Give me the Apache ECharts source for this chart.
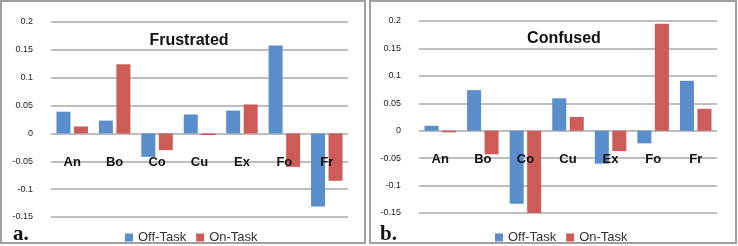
<!DOCTYPE html>
<html>
<head>
<meta charset="utf-8">
<script src="https://cdn.jsdelivr.net/npm/echarts@6/dist/echarts.min.js"></script>
<style>
  html, body { margin: 0; padding: 0; background: #fff; }
  #chart { width: 738px; height: 246px; }
</style>
</head>
<body>
<div id="chart"></div>
<script>
var categories = ['An', 'Bo', 'Co', 'Cu', 'Ex', 'Fo', 'Fr'];
var frustratedOff = [0.039, 0.023, -0.042, 0.034, 0.041, 0.158, -0.131];
var frustratedOn = [0.0125, 0.124, -0.030, -0.003, 0.052, -0.060, -0.085];
var confusedOff = [0.009, 0.074, -0.133, 0.059, -0.060, -0.023, 0.091];
var confusedOn = [-0.003, -0.043, -0.150, 0.025, -0.037, 0.195, 0.040];
var panelTitles = ['Frustrated', 'Confused'];
var panelTags = ['a.', 'b.'];

var blue = '#5a8dcc';
var red = '#cd5b57';
var font = 'Liberation Sans, Arial, sans-serif';

// labels sit just under the zero line (drawn over the bars), so the axis is lifted up to it
function makeXAxis(idx, lift) {
  return {
    type: 'category',
    gridIndex: idx,
    data: categories,
    offset: -lift,
    z: 5,
    axisLine: { show: false, onZero: false },
    axisTick: { show: false },
    axisLabel: { margin: 22, fontFamily: font, fontWeight: 'bold', fontSize: 13, color: '#111' }
  };
}

function makeYAxis(idx) {
  return {
    type: 'value',
    gridIndex: idx,
    min: -0.15,
    max: 0.2,
    interval: 0.05,
    axisLine: { show: false },
    axisTick: { show: false },
    axisLabel: { margin: 18, fontFamily: font, fontSize: 9, color: '#222' },
    splitLine: { lineStyle: { color: '#a8a8a8', width: 1.5 } }
  };
}

function makeBar(name, idx, data, color) {
  return {
    name: name,
    type: 'bar',
    xAxisIndex: idx,
    yAxisIndex: idx,
    data: data,
    barWidth: 14,
    barGap: '25%',
    itemStyle: { color: color }
  };
}

function makeLegend(left) {
  return {
    left: left,
    top: 226,
    itemWidth: 8,
    itemHeight: 8,
    itemGap: 10,
    icon: 'rect',
    textStyle: { fontFamily: font, fontSize: 13, color: '#333' },
    data: ['Off-Task', 'On-Task']
  };
}

var chart = echarts.init(document.getElementById('chart'));
var option = {
  animation: false,
  title: [
    { text: panelTitles[0], left: 184, top: 28, textAlign: 'center',
      textStyle: { fontFamily: font, fontWeight: 'bold', fontSize: 16, color: '#111' } },
    { text: panelTitles[1], left: 559, top: 26, textAlign: 'center',
      textStyle: { fontFamily: font, fontWeight: 'bold', fontSize: 16, color: '#111' } }
  ],
  legend: [makeLegend(120), makeLegend(490)],
  grid: [
    { left: 51, width: 297, top: 22, height: 195 },
    { left: 419, width: 298, top: 21, height: 192 }
  ],
  xAxis: [makeXAxis(0, 83), makeXAxis(1, 82)],
  yAxis: [makeYAxis(0), makeYAxis(1)],
  series: [
    makeBar('Off-Task', 0, frustratedOff, blue),
    makeBar('On-Task', 0, frustratedOn, red),
    makeBar('Off-Task', 1, confusedOff, blue),
    makeBar('On-Task', 1, confusedOn, red)
  ],
  graphic: [
    { type: 'rect', shape: { x: 1, y: 1, width: 364, height: 242 },
      style: { fill: 'none', stroke: '#a0a0a0', lineWidth: 2 }, silent: true },
    { type: 'rect', shape: { x: 370, y: 1, width: 366, height: 242 },
      style: { fill: 'none', stroke: '#a0a0a0', lineWidth: 2 }, silent: true },
    { type: 'text', left: 13, top: 224,
      style: { text: panelTags[0], font: 'bold 21px "Liberation Serif", "Times New Roman", serif', fill: '#111' } },
    { type: 'text', left: 380, top: 224,
      style: { text: panelTags[1], font: 'bold 21px "Liberation Serif", "Times New Roman", serif', fill: '#111' } }
  ]
};
chart.setOption(option);
</script>
</body>
</html>
